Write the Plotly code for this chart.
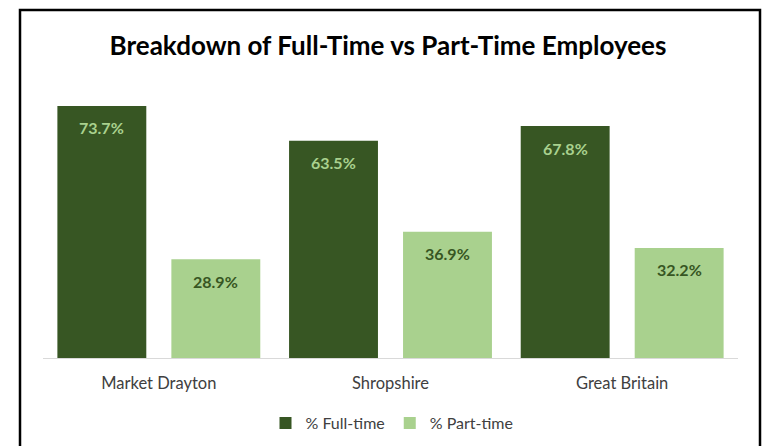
import plotly.graph_objects as go

categories = ["Market Drayton", "Shropshire", "Great Britain"]
full_time = [73.7, 63.5, 67.8]
part_time = [28.9, 36.9, 32.2]
series_names = ["% Full-time", "% Part-time"]
title_text = "Breakdown of Full-Time vs Part-Time Employees"

DARK = "#375623"
LIGHT = "#A9D18E"
W, H = 763, 446
FONT = "Lato"

fig = go.Figure()
fig.add_trace(go.Bar(x=categories, y=full_time, name=series_names[0],
                     marker=dict(color=DARK, line=dict(width=0))))
fig.add_trace(go.Bar(x=categories, y=part_time, name=series_names[1],
                     marker=dict(color=LIGHT, line=dict(width=0))))

annotations = []
for i, c in enumerate(categories):
    annotations.append(dict(x=c, y=full_time[i], xref="x", yref="y",
                            text=f"<b>{full_time[i]:.1f}%</b>", showarrow=False,
                            xshift=-57, yshift=-22,
                            font=dict(family=FONT, size=16, color=LIGHT)))
    annotations.append(dict(x=c, y=part_time[i], xref="x", yref="y",
                            text=f"<b>{part_time[i]:.1f}%</b>", showarrow=False,
                            xshift=57, yshift=-22,
                            font=dict(family=FONT, size=16, color=DARK)))

fig.update_layout(
    width=W, height=H,
    margin=dict(l=0, r=0, t=0, b=0),
    paper_bgcolor="white", plot_bgcolor="white",
    barmode="group", bargap=0.016, bargroupgap=0.22,
    title=dict(text=f"<b>{title_text}</b>", x=388 / W, xanchor="center",
               y=1 - 46 / H, yanchor="middle",
               font=dict(family=FONT, size=26, color="black")),
    xaxis=dict(domain=[43 / W, 738 / W], showline=True, linecolor="#D9D9D9",
               linewidth=1, ticks="", showgrid=False, ticklabelstandoff=10,
               tickfont=dict(family=FONT, size=16.5, color="#404040")),
    yaxis=dict(domain=[1 - 358 / H, 1 - 84.4 / H], range=[0, 80],
               showticklabels=False, showgrid=False, zeroline=False, ticks=""),
    legend=dict(orientation="h", x=392 / W, xanchor="center", y=1 - 423 / H,
                yanchor="middle", itemwidth=30,
                font=dict(family=FONT, size=16, color="#404040")),
    annotations=annotations,
    shapes=[dict(type="rect", xref="paper", yref="paper",
                 x0=20 / W, x1=760 / W, y0=-0.2, y1=1 - 10 / H,
                 line=dict(color="black", width=2.5))],
)

fig.write_html("out.html", config={"displayModeBar": False},
               post_script="document.body.style.margin='0';")
